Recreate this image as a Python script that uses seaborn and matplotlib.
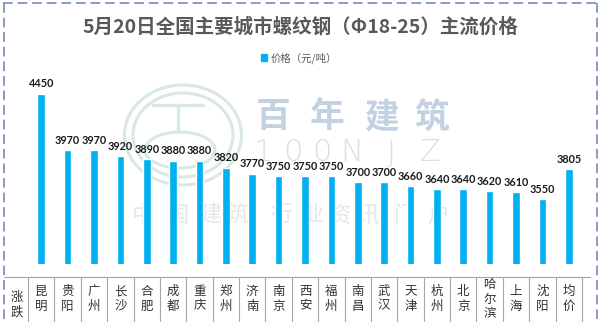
import matplotlib
matplotlib.use("Agg")
import matplotlib.pyplot as plt
import matplotlib.transforms as mtransforms
from matplotlib.patches import Patch, Ellipse
from matplotlib.lines import Line2D
import seaborn as sns
import pandas as pd

# ---- data ----
cities = ["昆明", "贵阳", "广州", "长沙", "合肥", "成都", "重庆", "郑州", "济南", "南京",
          "西安", "福州", "南昌", "武汉", "天津", "杭州", "北京", "哈尔滨", "上海", "沈阳", "均价"]
prices = [4450, 3970, 3970, 3920, 3890, 3880, 3880, 3820, 3770, 3750,
          3750, 3750, 3700, 3700, 3660, 3640, 3640, 3620, 3610, 3550, 3805]
title = "5月20日全国主要城市螺纹钢（Φ18-25）主流价格"
series_name = "价格（元/吨）"
table_header = "涨跌"

sns.set_theme(style="white")
plt.rcParams['font.family'] = ['Noto Sans CJK SC', 'DejaVu Sans']
plt.rcParams['lines.scale_dashes'] = False

W, H = 600, 322
fig = plt.figure(figsize=(6, 3.22), dpi=100)
fig.patch.set_facecolor("white")


def fx(x):
    return x / W


def fy(y):
    return 1 - y / H


BAR = "#00B0F0"

# ---- watermark (behind) ----
wm_blue = "#c3d1e2"
for ch, x in zip("百年建筑", [273, 327, 381, 432]):
    fig.text(fx(x), fy(117), ch, ha="center", va="center", fontsize=25,
             fontweight="bold", color=wm_blue, zorder=0)
for ch, x in zip("100NJZ", [263, 293, 322, 352, 391, 430]):
    fig.text(fx(x), fy(153), ch, ha="center", va="center", fontsize=22,
             fontweight="light", color="#d9dee6", zorder=0, family="DejaVu Sans")
for ch, x in zip("中国建筑行业资讯门户", [143, 177, 210, 237, 282, 313, 340, 368, 405, 438]):
    fig.text(fx(x), fy(215), ch, ha="center", va="center", fontsize=16,
             color="#e6e6e6", zorder=0)
logo_c = "#d8e9e2"
for (w, h) in [(117, 100), (100, 84)]:
    fig.add_artist(Ellipse((fx(183), fy(135)), w / W, h / H, transform=fig.transFigure,
                           fill=False, ec=logo_c, lw=2.2, zorder=0))
fig.add_artist(Ellipse((fx(180), fy(150)), 70 / W, 36 / H, transform=fig.transFigure,
                       fill=False, ec=logo_c, lw=2.2, zorder=0))
fig.add_artist(Line2D([fx(153), fx(203)], [fy(105), fy(105)], transform=fig.transFigure,
                      color=logo_c, lw=2.4, zorder=0))
fig.add_artist(Line2D([fx(178), fx(178)], [fy(105), fy(132)], transform=fig.transFigure,
                      color=logo_c, lw=2.4, zorder=0))

# ---- bars ----
ax = fig.add_axes([fx(28), fy(264), (582 - 28) / W, (264 - 76) / H])
ax.set_zorder(2)
ax.patch.set_visible(False)
df = pd.DataFrame({"city": cities, "price": prices})
sns.barplot(data=df, x="city", y="price", color=BAR, saturation=1, width=0.29, ax=ax)
ax.set_ylim(3000, 4600)
ax.set_xlim(-0.5, len(cities) - 0.5)
ax.set_axis_off()
ax.bar_label(ax.containers[0], fmt="%d", padding=3, fontsize=7.8, fontweight="bold",
             color="#1a1a1a", family="Lato")

# ---- title & legend ----
fig.text(0.5, fy(27), title, ha="center", va="center", fontsize=14, fontweight="bold",
         color="#595959")
leg = fig.legend(handles=[Patch(color=BAR)], labels=[series_name], loc="center",
                 bbox_to_anchor=(fx(299), fy(58)), frameon=False, fontsize=7.5,
                 handlelength=0.55, handleheight=0.55, handletextpad=0.3,
                 borderpad=0, borderaxespad=0)
for t in leg.get_texts():
    t.set_color("#595959")

# ---- data table row ----
blend = mtransforms.blended_transform_factory(ax.transData, fig.transFigure)
grid_c = "#a6a6a6"
fig.add_artist(Line2D([fx(4), fx(590)], [fy(277), fy(277)], transform=fig.transFigure,
                      color=grid_c, lw=0.8, zorder=3))
for i in range(len(cities) + 1):
    fig.add_artist(Line2D([i - 0.5, i - 0.5], [fy(277), 0], transform=blend,
                          color=grid_c, lw=0.8, zorder=3))

txt_c = "#333333"
pitch = 14.5
for i, name in enumerate(cities):
    n = len(name)
    for k, ch in enumerate(name):
        y = 299 + (k - (n - 1) / 2) * pitch
        fig.text(i, fy(y), ch, transform=blend, ha="center", va="center",
                 fontsize=9, color=txt_c, zorder=3)
for k, ch in enumerate(table_header):
    y = 304.5 + (k - 0.5) * 15
    fig.text(fx(17), fy(y), ch, ha="center", va="center", fontsize=9, color=txt_c, zorder=3)

# ---- dashed frame ----
frame_c = "#6a82ae"
ls = (0, (7, 3.5))
fig.add_artist(Line2D([fx(3), fx(597)], [fy(3), fy(3)], transform=fig.transFigure,
                      color=frame_c, lw=1.1, linestyle=ls, zorder=4))
fig.add_artist(Line2D([fx(3.5), fx(3.5)], [fy(3), 0], transform=fig.transFigure,
                      color=frame_c, lw=1.1, linestyle=ls, zorder=4))
fig.add_artist(Line2D([fx(596.5), fx(596.5)], [fy(3), 0], transform=fig.transFigure,
                      color=frame_c, lw=1.1, linestyle=ls, zorder=4))

fig.savefig("out.png", dpi=100, facecolor="white")
